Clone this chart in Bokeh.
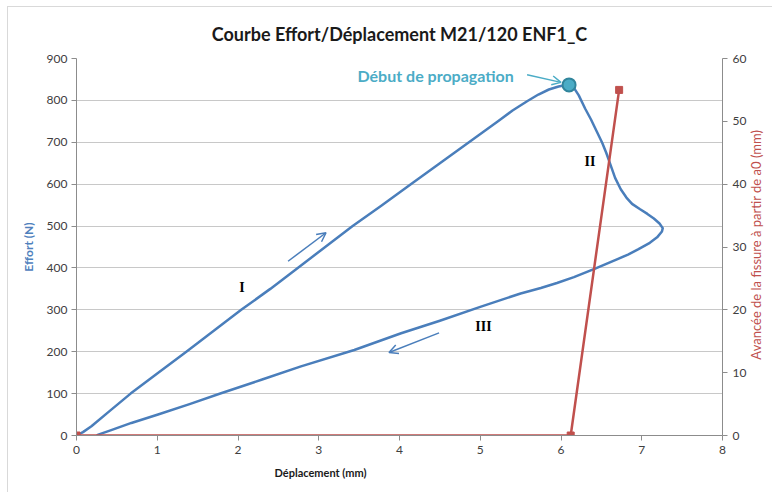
import math
from bokeh.plotting import figure
from bokeh.layouts import row
from bokeh.models import (Range1d, LinearAxis, FixedTicker, Label, Arrow, OpenHead, Title)
from bokeh.embed import file_html
from bokeh.resources import INLINE

# ---------------- data ----------------
# Effort / déplacement curve (loading I, propagation II, unloading III)
curve_x = [0.00, 0.08, 0.185, 0.42, 0.67, 1.00, 1.36, 1.70, 2.04, 2.40, 2.74, 3.08,
           3.42, 3.77, 4.14, 4.50, 4.86, 5.22, 5.40, 5.58, 5.72, 5.85, 5.97, 6.05, 6.10,
           6.16, 6.22, 6.30, 6.37, 6.44, 6.51, 6.56, 6.61, 6.67, 6.74, 6.81, 6.88,
           6.98, 7.07, 7.15, 7.22, 7.26, 7.25, 7.19, 7.10, 6.96, 6.83, 6.70, 6.43,
           6.16, 5.95, 5.75, 5.50, 5.00, 4.50, 4.02, 3.44, 2.78, 2.29, 1.79, 1.40,
           1.01, 0.68, 0.43, 0.27, 0.25]
curve_y = [0, 8, 22, 60, 100, 148, 200, 250, 300, 350, 400, 450,
           500, 548, 600, 650, 700, 750, 776, 798, 814, 826, 833, 836, 837,
           830, 812, 780, 755, 727, 699, 675, 648, 615, 588, 568, 553,
           540, 529, 518, 506, 495, 487, 473, 460, 445, 432, 421, 399,
           378, 364, 352, 339, 307, 274, 244, 204, 165, 133, 101, 75,
           50, 30, 13, 2, 0]

# crack advance from a0 (right axis, mm)
crack_x = [0.0, 6.12, 6.72]
crack_y = [0, 0, 55]

# propagation start point
peak_x = [6.10]
peak_y = [837]

left_ticks = [0, 100, 200, 300, 400, 500, 600, 700, 800, 900]
right_ticks = [0, 10, 20, 30, 40, 50, 60]
x_ticks = [0, 1, 2, 3, 4, 5, 6, 7, 8]

title_text = "Courbe Effort/Déplacement M21/120 ENF1_C"
xlabel = "Déplacement (mm)"
ylabel = "Effort (N)"
y2label = "Avancée de la fissure à partir de a0 (mm)"
annot_text = "Début de propagation"

BLUE = "#4A7EBB"
RED = "#C0504D"
TEAL = "#4BACC6"
GRID = "#C8C8C8"
AXIS = "#8C8C8C"
TICK_TXT = "#404040"
FONT = "Lato"

p = figure(width=741, height=485, output_backend="svg", toolbar_location=None,
           x_range=Range1d(0, 8), y_range=Range1d(0, 900),
           min_border_left=68, min_border_right=21, min_border_top=49,
           min_border_bottom=57, title=title_text)
p.outline_line_color = None
p.background_fill_color = "white"
p.border_fill_color = "white"

p.title.align = "center"
p.title.text_font = FONT
p.title.text_font_size = "18px"
p.title.text_font_style = "bold"
p.title.text_color = "#1a1a1a"
p.title.standoff = 27

p.extra_y_ranges = {"right": Range1d(0, 60)}

# axes
p.xaxis.ticker = FixedTicker(ticks=x_ticks)
p.yaxis.ticker = FixedTicker(ticks=left_ticks)
p.yaxis.axis_label = ylabel
p.yaxis.axis_label_text_color = "#4F81BD"
p.yaxis.axis_label_text_font = FONT
p.yaxis.axis_label_text_font_style = "bold"
p.yaxis.axis_label_text_font_size = "12px"
p.yaxis.axis_label_standoff = 8

ax2 = LinearAxis(y_range_name="right", ticker=FixedTicker(ticks=right_ticks))
p.add_layout(ax2, "right")

for ax in [p.xaxis[0], p.yaxis[0], ax2]:
    ax.axis_line_color = AXIS
    ax.major_tick_line_color = AXIS
    ax.major_tick_out = 5
    ax.major_tick_in = 0
    ax.minor_tick_line_color = None
    ax.major_label_text_font = FONT
    ax.major_label_text_font_size = "12px"
    ax.major_label_text_color = TICK_TXT
p.yaxis[0].major_label_standoff = 4
ax2.major_label_standoff = 5
p.xaxis[0].major_label_standoff = 5

p.xgrid.visible = False
p.ygrid.grid_line_color = GRID
p.ygrid.grid_line_width = 1

# x-axis title (offset left as in the original)
xt = Title(text=xlabel, align="left", offset=198, text_font=FONT, text_font_style="bold",
           text_font_size="11px", text_color="#1a1a1a", standoff=14)
p.add_layout(xt, "below")

# series
p.line(curve_x, curve_y, line_color=BLUE, line_width=2.5, line_join="round")
p.line(crack_x, crack_y, y_range_name="right", line_color=RED, line_width=2.5)
p.scatter(crack_x, crack_y, y_range_name="right", marker="square", size=7,
          fill_color=RED, line_color=RED)
p.scatter(peak_x, peak_y, size=13, fill_color=TEAL, line_color="#31859C", line_width=2)

# annotations
p.add_layout(Label(x=3.48, y=859, text=annot_text, text_font=FONT, text_font_style="bold",
                   text_font_size="16px", text_color=TEAL, text_baseline="middle"))
p.add_layout(Arrow(end=OpenHead(size=9, line_color=TEAL, line_width=1.5),
                   x_start=5.58, y_start=861, x_end=6.00, y_end=843,
                   line_color=TEAL, line_width=1.5))
p.add_layout(Arrow(end=OpenHead(size=9, line_color=BLUE, line_width=1.5),
                   x_start=2.62, y_start=416, x_end=3.09, y_end=484,
                   line_color=BLUE, line_width=1.5))
p.add_layout(Arrow(end=OpenHead(size=9, line_color=BLUE, line_width=1.5),
                   x_start=4.49, y_start=245, x_end=3.87, y_end=198,
                   line_color=BLUE, line_width=1.5))

for txt, xx, yy in [("I", 2.05, 354), ("II", 6.36, 655), ("III", 5.04, 261)]:
    p.add_layout(Label(x=xx, y=yy, text=txt, text_font="Liberation Serif",
                       text_font_style="bold", text_font_size="14px", text_color="black",
                       text_align="center", text_baseline="middle"))

# narrow side panel carrying the right-axis title (reads bottom-to-top)
p2 = figure(width=23, height=485, output_backend="svg", toolbar_location=None,
            x_range=Range1d(0, 1), y_range=Range1d(0, 1),
            x_axis_location=None, y_axis_location=None,
            min_border_left=0, min_border_right=0, min_border_top=0, min_border_bottom=0)
p2.grid.visible = False
p2.outline_line_color = None
p2.background_fill_color = "white"
p2.border_fill_color = "white"
p2.add_layout(Label(x=0.28, y=0.506, text=y2label, angle=math.pi / 2,
                    text_font=FONT, text_font_size="13px", text_color=RED,
                    text_align="center", text_baseline="middle"))

lay = row(p, p2)
lay.styles = {"margin-left": "7px", "margin-top": "6px",
              "border-left": "1px solid #D9D9D9", "border-top": "1px solid #D9D9D9"}

open("out.html", "w").write(file_html(lay, INLINE))
